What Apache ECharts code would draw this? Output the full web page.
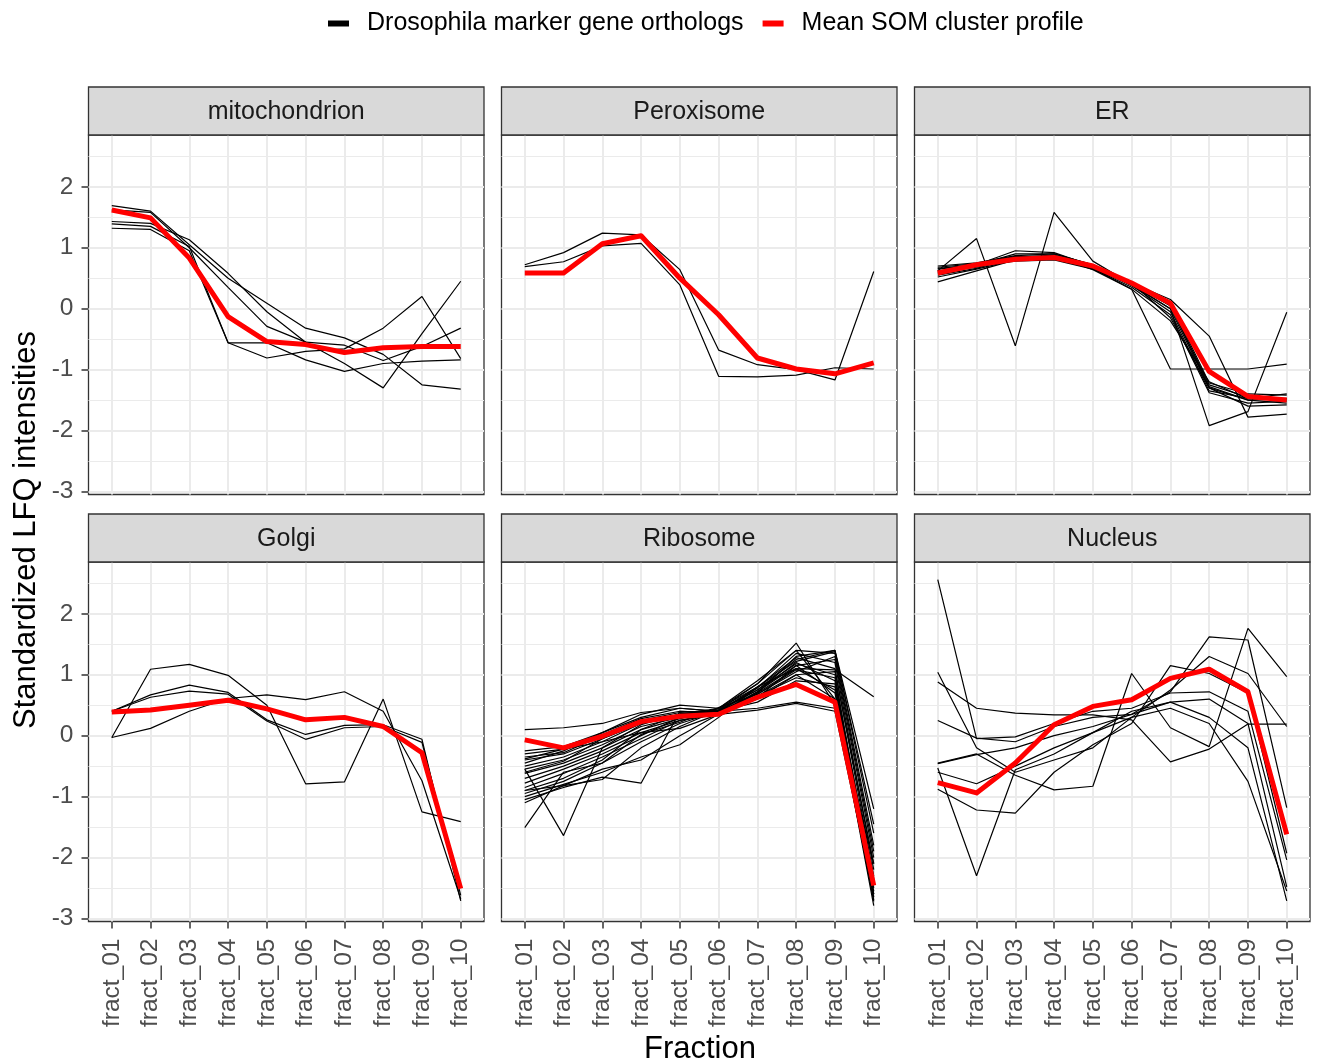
<!DOCTYPE html>
<html>
<head>
<meta charset="utf-8">
<script src="https://cdn.jsdelivr.net/npm/echarts@6/dist/echarts.min.js"></script>
<style>
html,body{margin:0;padding:0;background:#fff;}
#chart{width:1318px;height:1064px;}
</style>
</head>
<body>
<div id="chart"></div>
<script>
// ---------- data ----------
const fractions = ['fract_01','fract_02','fract_03','fract_04','fract_05','fract_06','fract_07','fract_08','fract_09','fract_10'];
const panelTitles = ['mitochondrion','Peroxisome','ER','Golgi','Ribosome','Nucleus'];
const yTicks = [-3,-2,-1,0,1,2];
const yMinor = [-2.5,-1.5,-0.5,0.5,1.5,2.5];
const markerName = 'Drosophila marker gene orthologs';
const meanName = 'Mean SOM cluster profile';

const mitoMean = [1.62, 1.49, 0.83, -0.13, -0.54, -0.59, -0.72, -0.64, -0.62, -0.62];
const mitoMarkers = [
  [1.69, 1.60, 1.05, 0.50, 0.09, -0.32, -0.48, -0.75, -1.25, -1.32],
  [1.43, 1.40, 1.13, 0.58, -0.05, -0.55, -0.60, -0.85, -0.62, -0.32],
  [1.62, 1.58, 1.00, 0.35, -0.29, -0.55, -0.90, -1.30, -0.41, 0.45],
  [1.39, 1.35, 1.02, -0.56, -0.81, -0.70, -0.66, -0.32, 0.20, -0.82],
  [1.32, 1.30, 0.95, -0.56, -0.56, -0.84, -1.03, -0.90, -0.86, -0.84]
];

const peroxMean = [0.585, 0.585, 1.066, 1.197, 0.50, -0.10, -0.81, -0.99, -1.07, -0.89];
const peroxMarkers = [
  [0.72, 0.92, 1.24, 1.21, 0.64, -0.68, -0.92, -1.00, -1.17, 0.61],
  [0.69, 0.77, 1.03, 1.07, 0.39, -1.11, -1.12, -1.09, -0.97, -0.99]
];

const erMean = [0.585, 0.72, 0.81, 0.84, 0.70, 0.42, 0.09, -1.03, -1.44, -1.50];
const erMarkers = [
  [0.62, 1.15, -0.61, 1.58, 0.78, 0.40, 0.05, -1.28, -1.50, -1.48],
  [0.58, 0.70, 0.85, 0.85, 0.66, 0.32, -0.99, -0.99, -0.99, -0.91],
  [0.52, 0.65, 0.80, 0.84, 0.68, 0.38, 0.00, -1.92, -1.69, -0.06],
  [0.66, 0.72, 0.90, 0.90, 0.72, 0.42, 0.15, -0.45, -1.78, -1.73],
  [0.70, 0.75, 0.87, 0.90, 0.72, 0.40, 0.00, -1.30, -1.50, -1.55],
  [0.65, 0.72, 0.95, 0.92, 0.70, 0.38, -0.05, -1.35, -1.47, -1.40],
  [0.60, 0.68, 0.82, 0.85, 0.68, 0.42, 0.05, -1.25, -1.45, -1.50],
  [0.44, 0.62, 0.80, 0.82, 0.66, 0.35, -0.10, -1.38, -1.55, -1.52],
  [0.62, 0.70, 0.78, 0.80, 0.65, 0.40, 0.10, -1.22, -1.40, -1.42],
  [0.55, 0.66, 0.84, 0.88, 0.70, 0.43, -0.15, -1.30, -1.60, -1.58],
  [0.68, 0.74, 0.86, 0.86, 0.64, 0.32, -0.20, -1.20, -1.48, -1.47]
];

const golgiMean = [0.39, 0.42, 0.50, 0.58, 0.44, 0.26, 0.30, 0.15, -0.28, -2.51];
const golgiMarkers = [
  [-0.03, 1.09, 1.17, 0.99, 0.50, -0.79, -0.76, 0.60, -1.25, -1.41],
  [0.40, 0.67, 0.83, 0.71, 0.26, 0.02, 0.17, 0.18, -0.06, -2.71],
  [0.40, 0.63, 0.73, 0.68, 0.24, -0.06, 0.13, 0.15, -0.11, -2.62],
  [-0.03, 0.12, 0.40, 0.61, 0.67, 0.59, 0.72, 0.40, -0.74, -2.68]
];

const riboMean = [-0.07, -0.20, -0.01, 0.23, 0.32, 0.35, 0.63, 0.84, 0.55, -2.46];
const riboMarkers = [
  [0.10, 0.13, 0.20, 0.38, 0.45, 0.40, 0.45, 0.55, 0.45, -2.10],
  [-0.25, -0.18, 0.05, 0.30, 0.45, 0.40, 0.80, 1.10, 1.08, 0.64],
  [-0.30, -0.22, 0.02, 0.28, 0.40, 0.38, 0.70, 1.30, 1.40, -1.20],
  [-0.35, -0.28, 0.00, 0.25, 0.38, 0.42, 0.75, 1.25, 1.40, -1.60],
  [-0.40, -0.30, -0.05, 0.20, 0.35, 0.40, 0.68, 1.05, 1.30, -1.90],
  [-0.45, -0.25, 0.05, 0.35, 0.50, 0.45, 0.85, 1.52, 0.50, -2.50],
  [-0.50, -0.35, -0.10, 0.20, 0.32, 0.38, 0.62, 1.15, 0.70, -2.60],
  [-0.55, -0.40, -0.15, 0.15, 0.30, 0.36, 0.72, 1.20, 0.90, -2.70],
  [-0.62, -0.45, -0.20, 0.10, 0.28, 0.42, 0.60, 1.00, 0.60, -2.79],
  [-0.70, -0.50, -0.25, 0.05, 0.25, 0.38, 0.65, 0.95, 0.80, -2.40],
  [-0.78, -0.55, -0.30, 0.00, 0.30, 0.40, 0.78, 1.35, 1.20, -2.20],
  [-0.85, -0.62, -0.35, -0.05, 0.25, 0.35, 0.70, 1.10, 0.75, -2.55],
  [-0.90, -0.70, -0.40, 0.10, 0.35, 0.45, 0.90, 1.40, 1.35, -1.80],
  [-0.95, -0.75, -0.45, -0.10, 0.20, 0.40, 0.75, 1.18, 1.00, -2.65],
  [-1.00, -0.80, -0.60, -0.35, -0.15, 0.30, 0.80, 1.28, 1.10, -2.30],
  [-1.05, -0.85, -0.68, -0.78, 0.40, 0.38, 0.72, 1.15, 1.25, -2.00],
  [-1.10, -0.82, -0.72, -0.20, 0.15, 0.42, 0.85, 1.40, 0.60, -2.72],
  [-1.51, -0.60, -0.45, 0.02, 0.22, 0.46, 0.68, 1.08, 0.95, -2.45],
  [-0.55, -1.64, -0.20, 0.18, 0.36, 0.40, 0.55, 0.90, 0.85, -2.35],
  [-0.38, -0.22, -0.10, 0.05, 0.12, 0.35, 0.42, 0.53, 0.40, -2.60],
  [-0.90, -0.82, -0.55, -0.40, 0.00, 0.35, 0.65, 1.00, 1.05, -2.10],
  [-0.60, -0.42, -0.05, 0.22, 0.33, 0.44, 0.80, 1.22, 1.38, -1.45]
];

const nucMean = [-0.77, -0.94, -0.45, 0.18, 0.48, 0.59, 0.94, 1.09, 0.72, -1.62];
const nucMarkers = [
  [2.56, -0.05, -0.02, 0.20, 0.40, 0.45, 0.70, 0.72, 0.40, -2.04],
  [1.04, -0.20, -0.60, -0.40, -0.20, 0.30, 0.75, 1.30, 1.02, 0.15],
  [0.88, 0.45, 0.37, 0.34, 0.34, 0.26, -0.43, -0.22, 0.19, 0.19],
  [0.25, -0.04, -0.10, 0.15, 0.30, 0.35, 0.55, 0.30, -0.20, -2.71],
  [-0.46, -0.31, -0.20, 0.00, 0.15, 0.35, 0.72, 1.62, 1.57, -1.18],
  [-0.53, -2.30, -0.56, -0.30, 0.05, 0.40, 0.55, 0.60, 0.20, -2.48],
  [-0.88, -1.22, -1.27, -0.60, -0.15, 0.20, 1.15, 1.02, 0.70, -1.93],
  [-0.60, -0.79, -0.50, -0.20, 0.05, 0.30, 0.45, 0.20, -0.75, -2.55],
  [-0.45, -0.30, -0.65, -0.89, -0.83, 1.02, 0.13, -0.18, 1.76, 0.97]
];

const panelMarkers = [mitoMarkers, peroxMarkers, erMarkers, golgiMarkers, riboMarkers, nucMarkers];
const panelMeans = [mitoMean, peroxMean, erMean, golgiMean, riboMean, nucMean];

// ---------- layout ----------
const FONT = '"Liberation Sans", Arial, Helvetica, sans-serif';
const colLeft = [88.5, 501.5, 914.5];
const panelW = 395.5;
const rowTop = [135, 562];
const panelH = 359.5;
const stripH = 48;
const xPos = fractions.map((f, i) => i + 1);

const grids = [], xAxes = [], yAxes = [], series = [], graphics = [];

for (let p = 0; p < 6; p++) {
  const col = p % 3, row = Math.floor(p / 3);
  grids.push({
    left: colLeft[col], top: rowTop[row], width: panelW, height: panelH,
    show: true, borderColor: '#333333', borderWidth: 1.3, backgroundColor: '#ffffff',
    containLabel: false, outerBoundsMode: 'none'
  });
  xAxes.push({
    type: 'value', gridIndex: p, min: 0.4, max: 10.6,
    axisLine: { show: false, onZero: false },
    splitLine: { show: false },
    axisTick: { show: row === 1, customValues: xPos, length: 7, lineStyle: { color: '#333333', width: 1.5 } },
    axisLabel: {
      show: row === 1, customValues: xPos, rotate: 90, margin: 17,
      formatter: v => fractions[Math.round(v) - 1] || '',
      fontSize: 24.5, color: '#4D4D4D', fontFamily: FONT
    }
  });
  yAxes.push({
    type: 'value', gridIndex: p, min: -3.05, max: 2.85,
    axisLine: { show: false, onZero: false },
    splitLine: { show: false },
    axisTick: { show: col === 0, customValues: yTicks, length: 7, lineStyle: { color: '#333333', width: 1.5 } },
    axisLabel: { show: col === 0, customValues: yTicks, margin: 15, fontSize: 24.5, color: '#4D4D4D', fontFamily: FONT }
  });

  panelMarkers[p].forEach(arr => {
    series.push({
      name: markerName, type: 'line', xAxisIndex: p, yAxisIndex: p,
      data: arr.map((v, i) => [xPos[i], v]),
      symbol: 'none', showSymbol: false, silent: true, animation: false,
      lineStyle: { color: '#000000', width: 1.2 }, itemStyle: { color: '#000000' },
      emphasis: { disabled: true }, z: 2
    });
  });

  const gridLines = [];
  yTicks.forEach(v => gridLines.push({ yAxis: v, lineStyle: { width: 2, color: '#EBEBEB', type: 'solid' } }));
  yMinor.forEach(v => gridLines.push({ yAxis: v, lineStyle: { width: 1, color: '#EBEBEB', type: 'solid' } }));
  xPos.forEach(v => gridLines.push({ xAxis: v, lineStyle: { width: 2, color: '#EBEBEB', type: 'solid' } }));

  series.push({
    name: meanName, type: 'line', xAxisIndex: p, yAxisIndex: p,
    data: panelMeans[p].map((v, i) => [xPos[i], v]),
    symbol: 'none', showSymbol: false, silent: true, animation: false,
    lineStyle: { color: '#FF0000', width: 5, join: 'round' }, itemStyle: { color: '#FF0000' },
    emphasis: { disabled: true }, z: 3,
    markLine: {
      silent: true, symbol: ['none', 'none'], label: { show: false }, animation: false,
      z: 1, emphasis: { disabled: true },
      lineStyle: { color: '#EBEBEB', type: 'solid' },
      data: gridLines
    }
  });

  // strip
  graphics.push({
    type: 'rect', z: 10,
    shape: { x: colLeft[col], y: rowTop[row] - stripH, width: panelW, height: stripH },
    style: { fill: '#D9D9D9', stroke: '#333333', lineWidth: 1.3 }
  });
  graphics.push({
    type: 'text', z: 11,
    x: colLeft[col] + panelW / 2, y: rowTop[row] - stripH / 2 + 1,
    style: { text: panelTitles[p], fontSize: 25, fill: '#1A1A1A', fontFamily: FONT, align: 'center', verticalAlign: 'middle' }
  });
}

graphics.push({
  type: 'text', x: 700, y: 1049,
  style: { text: 'Fraction', fontSize: 31, fill: '#000000', fontFamily: FONT, align: 'center', verticalAlign: 'middle' }
});
graphics.push({
  type: 'text', x: 26, y: 530, rotation: Math.PI / 2,
  style: { text: 'Standardized LFQ intensities', fontSize: 31, fill: '#000000', fontFamily: FONT, align: 'center', verticalAlign: 'middle' }
});

const chart = echarts.init(document.getElementById('chart'), null, { renderer: 'canvas' });
chart.setOption({
  animation: false,
  backgroundColor: '#ffffff',
  textStyle: { fontFamily: FONT },
  legend: {
    left: 328, top: 11, padding: 0, itemWidth: 21, itemHeight: 6, itemGap: 19, icon: 'rect',
    selectedMode: false,
    textStyle: { fontSize: 25, color: '#000000', fontFamily: FONT, padding: [0, 0, 0, 13] },
    data: [
      { name: markerName, itemStyle: { color: '#000000' } },
      { name: meanName, itemStyle: { color: '#FF0000' } }
    ]
  },
  grid: grids,
  xAxis: xAxes,
  yAxis: yAxes,
  series: series,
  graphic: graphics
});
</script>
</body>
</html>
